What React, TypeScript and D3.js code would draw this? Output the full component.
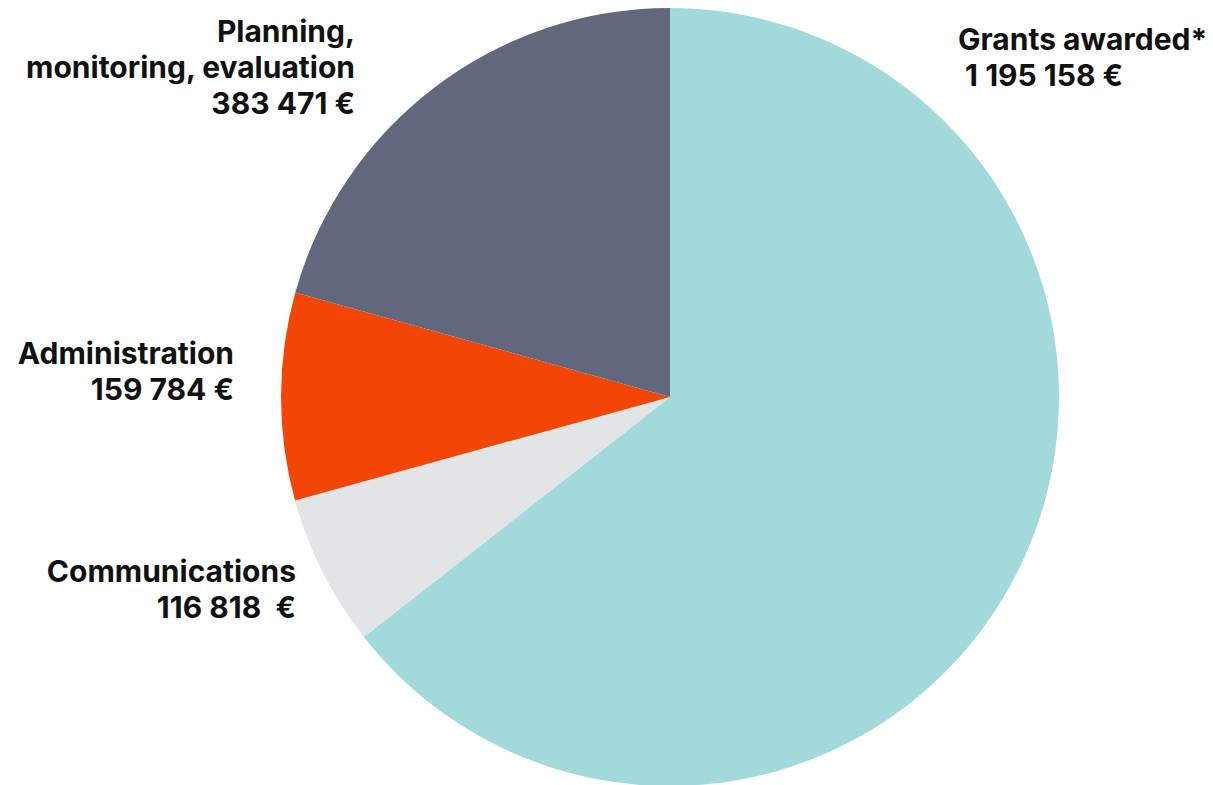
import * as d3 from 'd3';
import { useMemo } from 'react';

// budget breakdown, clockwise from 12 o'clock
const categories = ['Grants awarded', 'Communications', 'Administration', 'Planning, monitoring, evaluation'];
const amounts = [1195158, 116818, 159784, 383471];
const colors = ['#a2dadc', '#e3e4e6', '#f24506', '#63677d'];

// label text, as printed on the chart
const labelLines = [
  ['Grants awarded*', '\u00a01 195 158 \u20ac'],
  ['Communications', '116 818 \u00a0\u20ac'],
  ['Administration', '159 784 \u20ac'],
  ['Planning,', 'monitoring, evaluation', '383 471 \u20ac'],
];

const width = 1213;
const height = 785;
const cx = 670;
const cy = 397;
const radius = 389;

// label anchors (pixel placement, not data)
const labelPos = [
  { x: 958, y: 50, anchor: 'start' },
  { x: 296, y: 582, anchor: 'end' },
  { x: 234, y: 364, anchor: 'end' },
  { x: 355, y: 42, anchor: 'end' },
];

export default function App() {
  const arcs = useMemo(() => {
    const pie = d3.pie<number>().sort(null).value((d) => d);
    return pie(amounts);
  }, []);

  const arcGen = d3.arc<d3.PieArcDatum<number>>().innerRadius(0).outerRadius(radius);

  return (
    <svg
      width={width}
      height={height}
      style={{ position: 'absolute', left: 0, top: 0, background: '#fff' }}
    >
      <g transform={`translate(${cx},${cy})`}>
        {arcs.map((a, i) => (
          <path key={categories[i]} d={arcGen(a) ?? ''} fill={colors[i]} />
        ))}
      </g>
      {labelLines.map((lines, i) => (
        <text
          key={i}
          x={labelPos[i].x}
          y={labelPos[i].y}
          textAnchor={labelPos[i].anchor}
          fontFamily="Inter, 'Noto Sans', sans-serif"
          fontWeight={700}
          fontSize={30}
          fill="#111"
          style={{ fontVariantLigatures: 'none' }}
        >
          {lines.map((l, j) => (
            <tspan key={j} x={labelPos[i].x} dy={j === 0 ? 0 : 36}>
              {l}
            </tspan>
          ))}
        </text>
      ))}
    </svg>
  );
}
